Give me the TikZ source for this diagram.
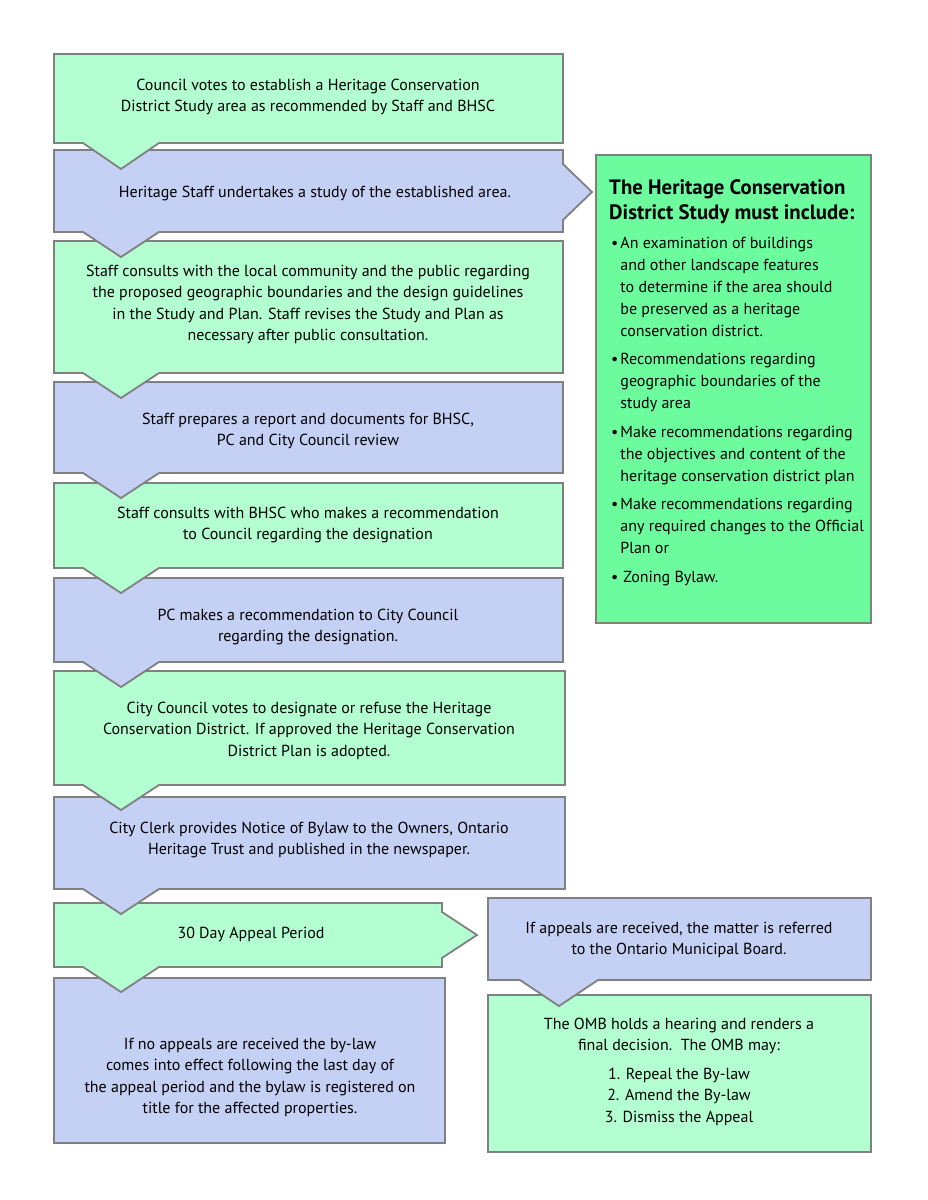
\documentclass[tikz,border=0pt]{standalone}
\usepackage{fontspec}
\setmainfont{PT Sans}
\definecolor{mint}{RGB}{179,255,209}
\definecolor{lav}{RGB}{197,208,245}
\definecolor{brightgreen}{RGB}{108,252,158}
\definecolor{edgegray}{RGB}{128,128,128}
\newcommand{\ctext}[1]{\begin{tabular}[t]{@{}c@{}}#1\end{tabular}}
\newcommand{\ltext}[1]{\begin{tabular}[t]{@{}l@{}}#1\end{tabular}}
\newcommand{\downbox}[5]{\draw[shapeline,fill=#1] (54,#2) -- (#3,#2) -- (#3,#4) -- (159,#4) -- (121,#5) -- (83,#4) -- (54,#4) -- cycle;}
\begin{document}
\begin{tikzpicture}[x=1pt,y=-1pt,
  shapeline/.style={draw=edgegray,line width=1.8pt,line join=miter},
  txt/.style={inner sep=0pt,anchor=base,font=\fontsize{16}{21.5}\selectfont}]
\useasboundingbox (0,0) rectangle (927,1200);
% shapes, bottom first so that each chevron lies over the box below it
\draw[shapeline,fill=mint] (488,995) rectangle (871,1152);
\draw[shapeline,fill=lav] (488,898) -- (871,898) -- (871,980) -- (598,980) -- (559,1006) -- (520,980) -- (488,980) -- cycle;
\draw[shapeline,fill=lav] (54,978) rectangle (445,1143);
\draw[shapeline,fill=mint] (54,903) -- (442,903) -- (442,912) -- (477,935) -- (442,958) -- (442,967) -- (159,967) -- (121,992) -- (83,967) -- (54,967) -- cycle;
\downbox{lav}{797}{565}{889}{914}
\downbox{mint}{671}{565}{785}{810}
\downbox{lav}{578}{563}{662}{687}
\downbox{mint}{483}{563}{568}{593}
\downbox{lav}{382}{563}{473}{498}
\downbox{mint}{241}{563}{373}{398}
\draw[shapeline,fill=lav] (54,150) -- (563,150) -- (563,164) -- (592,192) -- (563,220) -- (563,232) -- (159,232) -- (121,257) -- (83,232) -- (54,232) -- cycle;
\downbox{mint}{54}{563}{143}{169}
\draw[shapeline,fill=brightgreen] (596,155) rectangle (871,623);
% texts
\node[txt] (t1) at (308,90) {\ctext{Council votes to establish a Heritage Conservation\\District Study area as recommended by Staff and BHSC}};
\node[txt] (t2) at (315,197) {\ctext{Heritage Staff undertakes a study of the established area.}};
\node[txt] (t3) at (308,276) {\ctext{Staff consults with the local community and the public regarding\\the proposed geographic boundaries and the design guidelines\\in the Study and Plan. Staff revises the Study and Plan as\\necessary after public consultation.}};
\node[txt] (t4) at (308,424) {\ctext{Staff prepares a report and documents for BHSC,\\PC and City Council review}};
\node[txt] (t5) at (308,518) {\ctext{Staff consults with BHSC who makes a recommendation\\to Council regarding the designation}};
\node[txt] (t6) at (308,620) {\ctext{PC makes a recommendation to City Council\\regarding the designation.}};
\node[txt] (t7) at (309,713) {\ctext{City Council votes to designate or refuse the Heritage\\Conservation District. If approved the Heritage Conservation\\District Plan is adopted.}};
\node[txt] (t8) at (309,833) {\ctext{City Clerk provides Notice of Bylaw to the Owners, Ontario\\Heritage Trust and published in the newspaper.}};
\node[txt] (t9) at (251,938) {\ctext{30 Day Appeal Period}};
\node[txt] (t10) at (250,1049) {\ctext{If no appeals are received the by-law\\comes into effect following the last day of\\the appeal period and the bylaw is registered on\\title for the affected properties.}};
\node[txt] (t11) at (679,933) {\ctext{If appeals are received, the matter is referred\\to the Ontario Municipal Board.}};
\node[txt] (t12) at (679,1029) {\ctext{The OMB holds a hearing and renders a\\final decision.\ \ The OMB may:\\[7pt]1. Repeal the By-law\\2. Amend the By-law\\3. Dismiss the Appeal}};
\node[txt,anchor=base west,font=\bfseries\fontsize{20.8}{25}\selectfont] (rtitle) at (609,194) {\ltext{The Heritage Conservation\\District Study must include:}};
\node[txt,anchor=base west,font=\fontsize{16}{22}\selectfont] (rlist) at (611,248) {\begin{tabular}[t]{@{}l@{\hspace{2pt}}l@{}}
\textbullet & An examination of buildings\\
 & and other landscape features\\
 & to determine if the area should\\
 & be preserved as a heritage\\
 & conservation district.\\[6.5pt]
\textbullet & Recommendations regarding\\
 & geographic boundaries of the\\
 & study area\\[6.5pt]
\textbullet & Make recommendations regarding\\
 & the objectives and content of the\\
 & heritage conservation district plan\\[6.5pt]
\textbullet & Make recommendations regarding\\
 & any required changes to the Official\\
 & Plan or\\[6.5pt]
\textbullet & \hspace{3pt}Zoning Bylaw.
\end{tabular}};
\end{tikzpicture}
\end{document}
